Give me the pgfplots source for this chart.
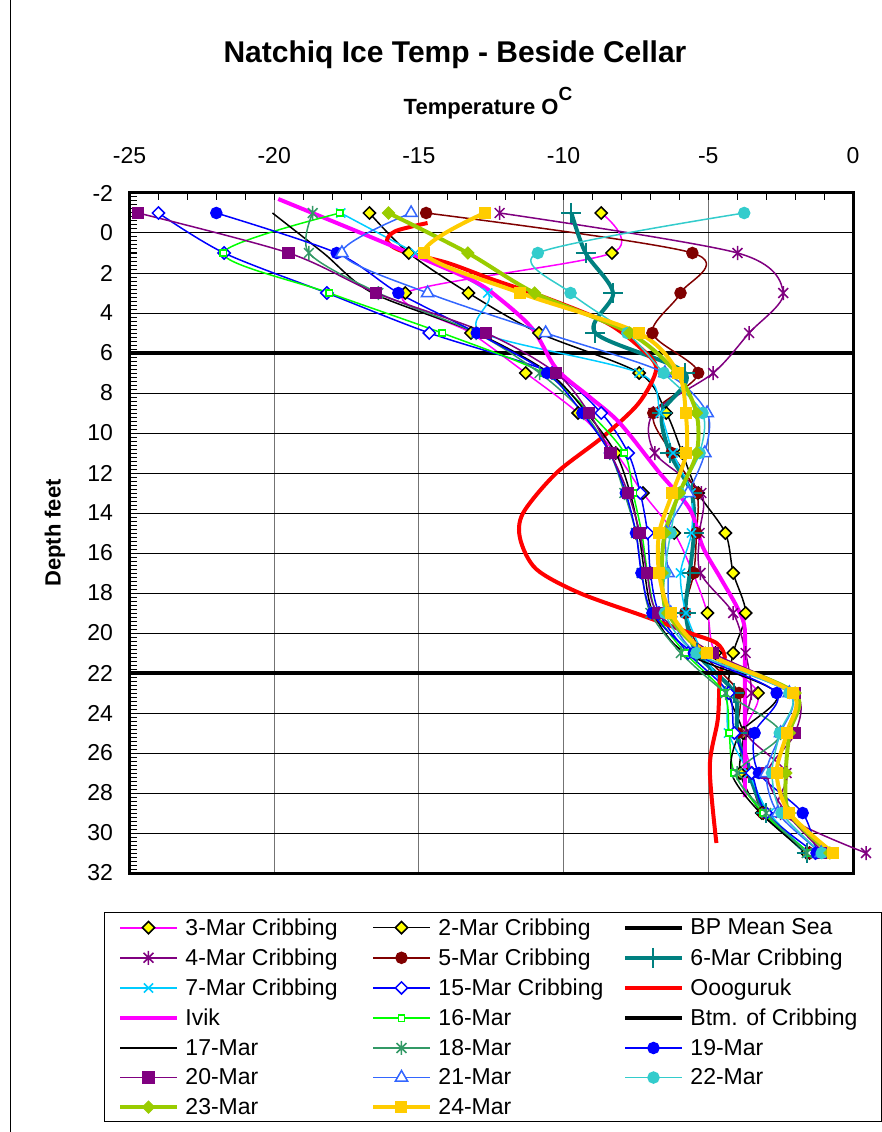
\documentclass[border=0pt]{standalone}
\usepackage{pgfplots}
\pgfplotsset{compat=1.18}
\usepackage{fontspec}
\setmainfont{Liberation Sans}
\definecolor{cmag}{HTML}{FF00FF}
\definecolor{cpur}{HTML}{800080}
\definecolor{cdred}{HTML}{800000}
\definecolor{cteal}{HTML}{008080}
\definecolor{ccyan}{HTML}{00CCFF}
\definecolor{cblue}{HTML}{0000FF}
\definecolor{cred}{HTML}{FF0000}
\definecolor{cgreen}{HTML}{00FF00}
\definecolor{csea}{HTML}{339966}
\definecolor{cbl21}{HTML}{3366FF}
\definecolor{ctq}{HTML}{33CCCC}
\definecolor{cyg}{HTML}{99CC00}
\definecolor{cgold}{HTML}{FFCC00}
\definecolor{cyel}{HTML}{FFFF00}
\newcommand{\LE}[1]{\makebox[191pt][l]{\hspace*{6pt}#1}}
\newcommand{\LEb}[1]{\makebox[190pt][l]{\hspace*{6pt}#1}}
\newcommand{\LEc}[1]{\makebox[182pt][l]{\hspace*{6pt}#1}}
\pgfdeclareplotmark{xstar}{%
  \pgfpathmoveto{\pgfqpoint{0pt}{-\pgfplotmarksize}}%
  \pgfpathlineto{\pgfqpoint{0pt}{\pgfplotmarksize}}%
  \pgfpathmoveto{\pgfqpoint{-.7\pgfplotmarksize}{-.7\pgfplotmarksize}}%
  \pgfpathlineto{\pgfqpoint{.7\pgfplotmarksize}{.7\pgfplotmarksize}}%
  \pgfpathmoveto{\pgfqpoint{-.7\pgfplotmarksize}{.7\pgfplotmarksize}}%
  \pgfpathlineto{\pgfqpoint{.7\pgfplotmarksize}{-.7\pgfplotmarksize}}%
  \pgfusepathqstroke}
\pgfplotsset{
  thin/.style={line width=1.5pt, smooth, tension=0.5},
  thick/.style={line width=4pt, smooth, tension=0.5},
}
\begin{document}
\begin{tikzpicture}
\useasboundingbox (0pt,0pt) rectangle (882pt,1132pt);
\draw[line width=1pt] (10pt,0pt) -- (10pt,1132pt);
\begin{axis}[
  at={(129.5pt,259pt)}, anchor=south west,
  scale only axis, width=723.5pt, height=680pt,
  xmin=-25, xmax=0, ymin=-2, ymax=32, y dir=reverse,
  xtick={-25,-20,-15,-10,-5,0}, xticklabels={-25,-20,-15,-10,-5,0},
  ytick={-2,0,2,4,6,8,10,12,14,16,18,20,22,24,26,28,30,32},
  yticklabels={-2,0,2,4,6,8,10,12,14,16,18,20,22,24,26,28,30,32},
  minor x tick num=4, minor y tick num=9,
  xtick pos=right, xticklabel pos=right, ytick pos=left,
  tick align=inside, major tick length=7pt, minor tick length=7pt,
  every tick/.style={black, line width=1pt},
  xmajorgrids, ymajorgrids,
  x grid style={draw=black!55, line width=1pt},
  y grid style={draw=black, line width=1pt},
  axis line style={line width=3pt},
  tick label style={font=\fontsize{23}{27}\selectfont},
  xticklabel style={yshift=26pt},
  yticklabel style={xshift=-13pt},
  clip=false,
  legend columns=3,
  legend cell align=left,
  legend style={at={(-0.03525,-0.0574)}, anchor=north west, draw=black, line width=1pt,
    font=\fontsize{23}{27}\selectfont, inner xsep=14pt, inner ysep=5pt,
    nodes={inner sep=1pt}, row sep=10pt},
  legend image code/.code={\draw[mark repeat=2,mark phase=2] plot coordinates {(0pt,0pt) (28pt,0pt) (56pt,0pt)};},
]
% 3-Mar
\addplot[thin, cmag, mark=square*, mark size=4.3pt, mark options={solid, rotate=45, fill=cyel, draw=black, line width=1.5pt}, legend image post style={draw=cmag, line width=2pt}] coordinates {(-8.70,-1) (-8.33,1) (-15.47,3) (-13.2,5) (-11.31,7) (-9.5,9) (-8.2,11) (-7.26,13) (-6.18,15) (-5.53,17) (-5.03,19) (-4.75,21) (-3.28,23) (-3.77,25) (-3.5,27) (-3.1,29) (-1.5,31)};
\addlegendentry{\LE{3-Mar Cribbing}}
% 2-Mar
\addplot[thin, black, mark=square*, mark size=4.3pt, mark options={solid, rotate=45, fill=cyel, draw=black, line width=1.5pt}] coordinates {(-16.71,-1) (-15.35,1) (-13.29,3) (-10.85,5) (-7.39,7) (-6.45,9) (-5.9,11) (-5.35,13) (-4.41,15) (-4.14,17) (-3.71,19) (-4.14,21) (-4.3,23) (-3.80,25) (-3.9,27) (-3.15,29) (-1.6,31)};
\addlegendentry{\LEb{2-Mar Cribbing}}
% BP Mean Sea
\addplot[black, line width=4pt, no markers] coordinates {(-25,6) (0,6)};
\addlegendentry{\LEc{BP Mean Sea}}
% 4-Mar
\addplot[thin, cpur, mark=xstar, mark size=7pt, mark options={solid, line width=1.5pt}] coordinates {(-12.21,-1) (-3.99,1) (-2.41,3) (-3.59,5) (-4.83,7) (-6.9,9) (-6.85,11) (-5.24,13) (-5.3,15) (-5.27,17) (-4.14,19) (-3.71,21) (-3.51,23) (-3.7,25) (-2.3,27) (-2.5,29) (0.45,31)};
\addlegendentry{\LE{4-Mar Cribbing}}
% 5-Mar
\addplot[thin, cdred, mark=*, mark size=5.5pt, mark options={solid, fill=cdred, draw=cdred}] coordinates {(-14.75,-1) (-5.55,1) (-5.96,3) (-6.93,5) (-5.35,7) (-6.9,9) (-6.27,11) (-5.4,13) (-5.41,15) (-5.5,17) (-5.8,19) (-5.2,21) (-3.94,23) (-4.0,25) (-3.56,27) (-3.1,29) (-1.5,31)};
\addlegendentry{\LEb{5-Mar Cribbing}}
% 6-Mar
\addplot[thick, cteal, mark=+, mark size=10pt, mark options={solid, line width=2pt}] coordinates {(-9.73,-1) (-9.24,1) (-8.29,3) (-8.9,5) (-5.8,7) (-6.6,9) (-6.33,11) (-5.58,13) (-5.5,15) (-5.64,17) (-5.78,19) (-5.4,21) (-4.1,23) (-4.0,25) (-3.6,27) (-3.0,29) (-1.6,31)};
\addlegendentry{\LEc{6-Mar Cribbing}}
% 7-Mar
\addplot[thin, ccyan, mark=x, mark size=6.5pt, mark options={solid, line width=1.5pt}] coordinates {(-17.7,-1) (-15.12,1) (-12.62,3) (-12.8,5) (-7.39,7) (-6.66,9) (-6.22,11) (-5.6,13) (-5.58,15) (-5.96,17) (-5.77,19) (-5.2,21) (-4.4,23) (-4.3,25) (-3.6,27) (-2.9,29) (-1.55,31)};
\addlegendentry{\LE{7-Mar Cribbing}}
% 15-Mar
\addplot[thin, cblue, mark=square*, mark size=4.3pt, mark options={solid, rotate=45, fill=white, draw=cblue, line width=1.5pt}] coordinates {(-24.0,-1) (-21.73,1) (-18.18,3) (-14.64,5) (-10.4,7) (-8.70,9) (-7.77,11) (-7.35,13) (-7.1,15) (-7.0,17) (-6.7,19) (-5.7,21) (-4.3,23) (-4.1,25) (-3.5,27) (-3.0,29) (-1.3,31)};
\addlegendentry{\LEb{15-Mar Cribbing}}
% Oooguruk
\addplot[thick, cred, no markers] coordinates {(-14.7,-0.5) (-15.8,-0.1) (-16.1,0.4) (-15.6,0.9) (-14.0,1.5) (-12.5,2.3) (-10.5,3.3) (-8.5,4.5) (-7.3,5.8) (-6.8,6.8) (-7.4,8.5) (-8.65,10.2) (-10.25,12) (-11.4,14) (-11.5,15.3) (-10.95,16.8) (-9.45,18) (-7.14,19.2) (-5.64,20) (-4.72,20.5) (-4.43,21.2) (-4.6,22.2) (-4.67,24.3) (-4.95,26.7) (-4.72,30.5)};
\addlegendentry{\LEc{Oooguruk}}
% Ivik
\addplot[thick, cmag, no markers] coordinates {(-19.86,-1.7) (-16.5,0.3) (-13.25,2.3) (-12.2,3.3) (-11.07,4.8) (-10.24,6.8) (-9.1,8.2) (-8.06,9.5) (-6.68,12) (-5.64,13.8) (-5.19,15.7) (-4.6,17.2) (-4.01,18.7) (-3.74,19.8) (-3.74,22.3) (-3.74,28.2)};
\addlegendentry{\LE{Ivik}}
% 16-Mar
\addplot[thin, cgreen, mark=square*, mark size=3.2pt, mark options={solid, fill=white, draw=cgreen, line width=1.5pt}] coordinates {(-17.73,-1) (-21.76,1) (-18.1,3) (-14.2,5) (-10.7,7) (-9.1,9) (-7.9,11) (-7.6,13) (-7.3,15) (-7.1,17) (-6.8,19) (-5.8,21) (-4.46,23) (-4.28,25) (-4.1,27) (-3.10,29) (-1.5,31)};
\addlegendentry{\LEb{16-Mar}}
% Btm of Cribbing
\addplot[black, line width=4pt, no markers] coordinates {(-25,22) (0,22)};
\addlegendentry{\LEc{Btm. of Cribbing}}
% 17-Mar
\addplot[thin, black, no markers] coordinates {(-20.06,-1) (-18.3,1) (-16.6,3) (-13.0,5) (-10.5,7) (-9.2,9) (-8.2,11) (-7.7,13) (-7.4,15) (-7.2,17) (-6.9,19) (-5.8,21) (-2.64,23) (-3.9,25) (-4.2,27) (-3.2,29) (-1.6,31)};
\addlegendentry{\LE{17-Mar}}
% 18-Mar
\addplot[thin, csea, mark=xstar, mark size=7pt, mark options={solid, line width=1.5pt}] coordinates {(-18.67,-1) (-18.8,1) (-16.4,3) (-13.02,5) (-10.83,7) (-9.3,9) (-8.4,11) (-7.9,13) (-7.5,15) (-7.3,17) (-7.0,19) (-5.95,21) (-4.4,23) (-2.5,25) (-4.0,27) (-3.0,29) (-1.6,31)};
\addlegendentry{\LEb{18-Mar}}
% 19-Mar
\addplot[thin, cblue, mark=*, mark size=5.5pt, mark options={solid, fill=cblue, draw=cblue}] coordinates {(-22.0,-1) (-17.84,1) (-15.71,3) (-13.0,5) (-10.57,7) (-9.35,9) (-8.4,11) (-7.85,13) (-7.5,15) (-7.31,17) (-6.93,19) (-5.5,21) (-2.64,23) (-3.4,25) (-3.25,27) (-1.74,29) (-1.26,31)};
\addlegendentry{\LEc{19-Mar}}
% 20-Mar
\addplot[thin, cpur, mark=square*, mark size=5.5pt, mark options={solid, fill=cpur, draw=cpur}] coordinates {(-24.7,-1) (-19.5,1) (-16.48,3) (-12.68,5) (-10.26,7) (-9.12,9) (-8.38,11) (-7.77,13) (-7.37,15) (-7.12,17) (-6.74,19) (-4.84,21) (-2.0,23) (-2.0,25) (-2.96,27) (-2.3,29) (-1.0,31)};
\addlegendentry{\LE{20-Mar}}
% 21-Mar
\addplot[thin, cbl21, mark=triangle*, mark size=7pt, mark options={solid, fill=white, draw=cbl21, line width=1.5pt}] coordinates {(-15.27,-1) (-17.66,1) (-14.7,3) (-10.62,5) (-6.5,7) (-5.04,9) (-5.12,11) (-5.70,13) (-6.45,15) (-6.39,17) (-6.3,19) (-5.4,21) (-2.2,23) (-2.5,25) (-3.0,27) (-2.6,29) (-1.1,31)};
\addlegendentry{\LEb{21-Mar}}
% 22-Mar
\addplot[thin, ctq, mark=*, mark size=5.5pt, mark options={solid, fill=ctq, draw=ctq}] coordinates {(-3.76,-1) (-10.89,1) (-9.76,3) (-7.8,5) (-6.54,7) (-5.2,9) (-5.3,11) (-6.0,13) (-6.3,15) (-6.5,17) (-6.5,19) (-5.41,21) (-2.2,23) (-2.53,25) (-2.8,27) (-2.47,29) (-1.08,31)};
\addlegendentry{\LEc{22-Mar}}
% 23-Mar
\addplot[thick, cyg, mark=square*, mark size=4.3pt, mark options={solid, rotate=45, fill=cyg, draw=cyg, line width=1pt}] coordinates {(-16.05,-1) (-13.31,1) (-11.0,3) (-7.72,5) (-6.1,7) (-5.41,9) (-5.4,11) (-6.0,13) (-6.5,15) (-6.6,17) (-6.4,19) (-5.1,21) (-2.0,23) (-2.2,25) (-2.32,27) (-2.2,29) (-0.8,31)};
\addlegendentry{\LE{23-Mar}}
% 24-Mar
\addplot[thick, cgold, mark=square*, mark size=5.5pt, mark options={solid, fill=cgold, draw=cgold, line width=1pt}] coordinates {(-12.73,-1) (-14.81,1) (-11.50,3) (-7.40,5) (-6.04,7) (-5.78,9) (-5.76,11) (-6.24,13) (-6.70,15) (-6.70,17) (-6.30,19) (-5.06,21) (-2.09,23) (-2.29,25) (-2.64,27) (-2.20,29) (-0.68,31)};
\addlegendentry{\LEb{24-Mar}}
\end{axis}
\node[font=\bfseries\fontsize{30}{35}\selectfont] at (455pt,1077pt) {Natchiq Ice Temp - Beside Cellar};
\node[font=\bfseries\fontsize{22}{26}\selectfont] at (488pt,1029pt) {Temperature O\raisebox{0.65em}{\fontsize{19}{22}\selectfont C}};
\node[rotate=90, font=\bfseries\fontsize{22}{26}\selectfont] at (55pt,599pt) {Depth feet};
\end{tikzpicture}
\end{document}
